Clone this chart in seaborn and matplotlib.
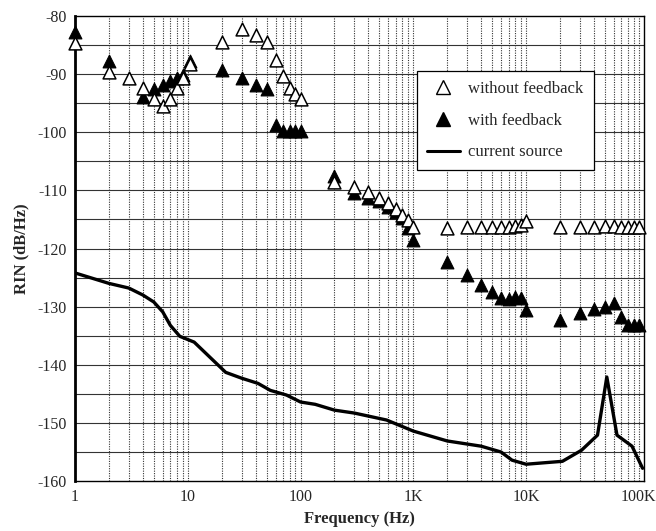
import numpy as np
import pandas as pd
import seaborn as sns
from matplotlib import pyplot as plt
from matplotlib.lines import Line2D
from matplotlib.ticker import FixedLocator, LogLocator, NullFormatter

# open triangles - without feedback
f_open = [1, 2, 3, 4, 5, 6, 7, 8, 9, 10.5,
          20, 30, 40, 50, 60, 70, 80, 90, 100,
          200, 300, 400, 500, 600, 700, 800, 900, 1000,
          2000, 3000, 4000, 5000, 6000, 7000, 8000, 9000, 10000,
          20000, 30000, 40000, 50000, 60000, 70000, 80000, 90000, 100000]
rin_open = [-84.6, -89.6, -90.6, -92.4, -94.3, -95.5, -94.3, -92.4, -90.6, -88.2,
            -84.5, -82.2, -83.2, -84.5, -87.5, -90.4, -92.4, -93.4, -94.3,
            -108.6, -109.4, -110.3, -111.3, -112.2, -113.2, -114.2, -115.1, -116.3,
            -116.4, -116.3, -116.3, -116.3, -116.3, -116.3, -116.2, -116.0, -115.2,
            -116.3, -116.3, -116.3, -116.2, -116.2, -116.3, -116.3, -116.3, -116.3]

# filled triangles - with feedback
f_fb = [1, 2, 4, 5, 6, 7, 8, 9, 10.5,
        20, 30, 40, 50, 60, 70, 80, 90, 100,
        200, 300, 400, 500, 600, 700, 800, 900, 1000,
        2000, 3000, 4000, 5000, 6000, 7000, 8000, 9000, 10000,
        20000, 30000, 40000, 50000, 60000, 70000, 80000, 90000, 100000]
rin_fb = [-82.8, -87.7, -93.9, -92.6, -91.9, -91.2, -90.7, -90.2, -87.8,
          -89.3, -90.7, -91.8, -92.6, -98.8, -99.8, -99.8, -99.8, -99.8,
          -107.5, -110.5, -111.3, -111.9, -112.9, -113.8, -114.8, -116.5, -118.5,
          -122.4, -124.5, -126.3, -127.4, -128.5, -128.7, -128.4, -128.5, -130.6,
          -132.3, -131.1, -130.4, -130.0, -129.3, -131.7, -133.2, -133.2, -133.2]

# solid line - current source
f_cs = [1, 2, 3, 4, 5, 6, 7, 8.5, 11.4, 21.7, 30, 42, 54, 75, 100, 135, 200, 300,
        580, 1000, 2000, 4000, 6000, 7500, 10000, 21000, 31000, 43000, 52000,
        64000, 87000, 108000]
rin_cs = [-124.2, -126.0, -126.8, -128.0, -129.2, -130.9, -133.2, -135.1, -136.1,
          -141.3, -142.3, -143.2, -144.4, -145.2, -146.4, -146.8, -147.8, -148.3,
          -149.5, -151.4, -153.1, -154.0, -155.0, -156.4, -157.1, -156.6, -154.7,
          -152.1, -142.1, -152.1, -154.0, -157.8]

xtick_vals = [1, 10, 100, 1000, 10000, 100000]
xtick_labels = ['1', '10', '100', '1K', '10K', '100K']
ytick_vals = list(range(-160, -79, 10))

sns.set_style("white")
plt.rcParams['font.family'] = ['Liberation Serif', 'DejaVu Serif']
plt.rcParams['axes.unicode_minus'] = False

fig = plt.figure(figsize=(6.56, 5.31), dpi=100)
ax = fig.add_axes([0.1143, 0.094, 0.868, 0.876])

ax.set_xscale('log')
ax.set_xlim(1, 1.12e5)
ax.set_ylim(-160, -80)

# grid: solid horizontal every 5 dB, dotted vertical at every log tick
for yv in range(-155, -80, 5):
    ax.axhline(yv, color='#333333', lw=0.8, zorder=0)
ax.xaxis.set_minor_locator(LogLocator(base=10, subs=np.arange(2, 10)))
ax.xaxis.set_minor_formatter(NullFormatter())
ax.grid(True, which='both', axis='x', color='#333333', ls=(0, (1, 1.2)), lw=0.8, zorder=0)

df_cs = pd.DataFrame({'f': f_cs, 'rin': rin_cs})
sns.lineplot(data=df_cs, x='f', y='rin', ax=ax, color='black', lw=2.4, zorder=2,
             estimator=None, sort=False)

df_fb = pd.DataFrame({'f': f_fb, 'rin': rin_fb})
sns.scatterplot(data=df_fb, x='f', y='rin', ax=ax, marker='^', s=85,
                color='black', edgecolor='black', linewidth=0.8, zorder=3, clip_on=False)
df_open = pd.DataFrame({'f': f_open, 'rin': rin_open})
sns.scatterplot(data=df_open, x='f', y='rin', ax=ax, marker='^', s=85,
                facecolor='white', edgecolor='black', linewidth=1.1, zorder=4, clip_on=False)

ax.xaxis.set_major_locator(FixedLocator(xtick_vals))
ax.set_xticklabels(xtick_labels)
ax.set_yticks(ytick_vals)
ax.tick_params(axis='both', which='both', length=0, labelsize=11.5, pad=6)

ax.set_xlabel('Frequency (Hz)', fontsize=12, fontweight='bold', labelpad=4)
ax.set_ylabel('RIN (dB/Hz)', fontsize=12, fontweight='bold', labelpad=6)

for side in ['top', 'right', 'bottom']:
    ax.spines[side].set_linewidth(1.0)
    ax.spines[side].set_color('black')
ax.spines['left'].set_linewidth(2.0)
ax.spines['left'].set_color('black')

handles = [
    Line2D([], [], ls='none', marker='^', markersize=10, markerfacecolor='white',
           markeredgecolor='black', markeredgewidth=1.0),
    Line2D([], [], ls='none', marker='^', markersize=10, markerfacecolor='black',
           markeredgecolor='black'),
    Line2D([], [], color='black', lw=2.2),
]
leg = ax.legend(handles, ['without feedback', 'with feedback', 'current source'],
                loc='upper left', bbox_to_anchor=(0.6, 0.882), borderaxespad=0,
                fontsize=12, frameon=True, fancybox=False, framealpha=1,
                edgecolor='black', borderpad=0.6, labelspacing=0.95,
                handlelength=2.0, handletextpad=0.5)
leg.get_frame().set_linewidth(0.9)
leg.set_zorder(5)

fig.savefig('out.png', dpi=100)
